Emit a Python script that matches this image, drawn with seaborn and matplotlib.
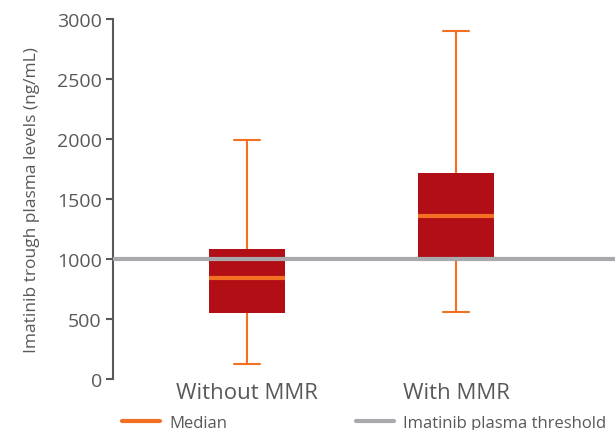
import numpy as np
import pandas as pd
import seaborn as sns
import matplotlib.pyplot as plt
from matplotlib.lines import Line2D

# five-number summaries: min, q1, median, q3, max
groups = ["Without MMR", "With MMR"]
without_mmr = [125, 550, 840, 1080, 1990]
with_mmr = [560, 1010, 1360, 1720, 2900]
threshold = 1000
y_ticks = [0, 500, 1000, 1500, 2000, 2500, 3000]

RED = "#B20E16"
ORANGE = "#F36F21"
GREY = "#A7A9AC"
TEXT = "#58595B"

sns.set_theme(style="white")
plt.rcParams["font.family"] = ["Open Sans", "DejaVu Sans"]

data = pd.DataFrame({
    "group": [groups[0]] * 5 + [groups[1]] * 5,
    "level": without_mmr + with_mmr,
})

fig = plt.figure(figsize=(6.15, 4.31), dpi=100)
ax = fig.add_axes([0.1837, 0.1183, 0.8163, 0.8353])

sns.boxplot(data=data, x="group", y="level", ax=ax, whis=np.inf,
            width=0.364, color=RED, saturation=1, linewidth=0,
            boxprops=dict(facecolor=RED, edgecolor=RED, linewidth=0),
            medianprops=dict(color=ORANGE, linewidth=3),
            whiskerprops=dict(color=ORANGE, linewidth=1.5),
            capprops=dict(color=ORANGE, linewidth=1.5))

# shorten the caps a bit
for line in ax.lines:
    xs, ys = line.get_xdata(), line.get_ydata()
    if len(xs) == 2 and ys[0] == ys[1] and line.get_linewidth() == 1.5:
        c = (xs[0] + xs[1]) / 2
        line.set_xdata([c - 0.062, c + 0.062])

ax.axhline(threshold, color=GREY, linewidth=3, zorder=5)

ax.set_xlim(-0.641, 1.761)
ax.set_ylim(0, 3000)
ax.set_yticks(y_ticks)
ax.set_xlabel("")
ax.set_ylabel("Imatinib trough plasma levels (ng/mL)", color=TEXT, fontsize=12.5)
ax.yaxis.set_label_coords(-0.145, 0.5)
sns.despine(ax=ax, bottom=True, right=True, top=True)
ax.spines["left"].set_color(TEXT)
ax.spines["left"].set_linewidth(1.5)
ax.tick_params(axis="y", left=True, length=5, width=1.5, color=TEXT,
               labelcolor=TEXT, labelsize=14, pad=3)
ax.tick_params(axis="x", bottom=False, labelcolor=TEXT, labelsize=16, pad=-4)

handles = [Line2D([], [], color=ORANGE, linewidth=3),
           Line2D([], [], color=GREY, linewidth=3)]
fig.legend(handles, ["Median", "Imatinib plasma threshold"], loc="center left",
           bbox_to_anchor=(0.198, 0.017), ncol=2, frameon=False, fontsize=12,
           handlelength=2.3, handletextpad=0.55, columnspacing=7.7,
           borderpad=0, borderaxespad=0, labelcolor=TEXT)

fig.savefig("out.png", dpi=100)
